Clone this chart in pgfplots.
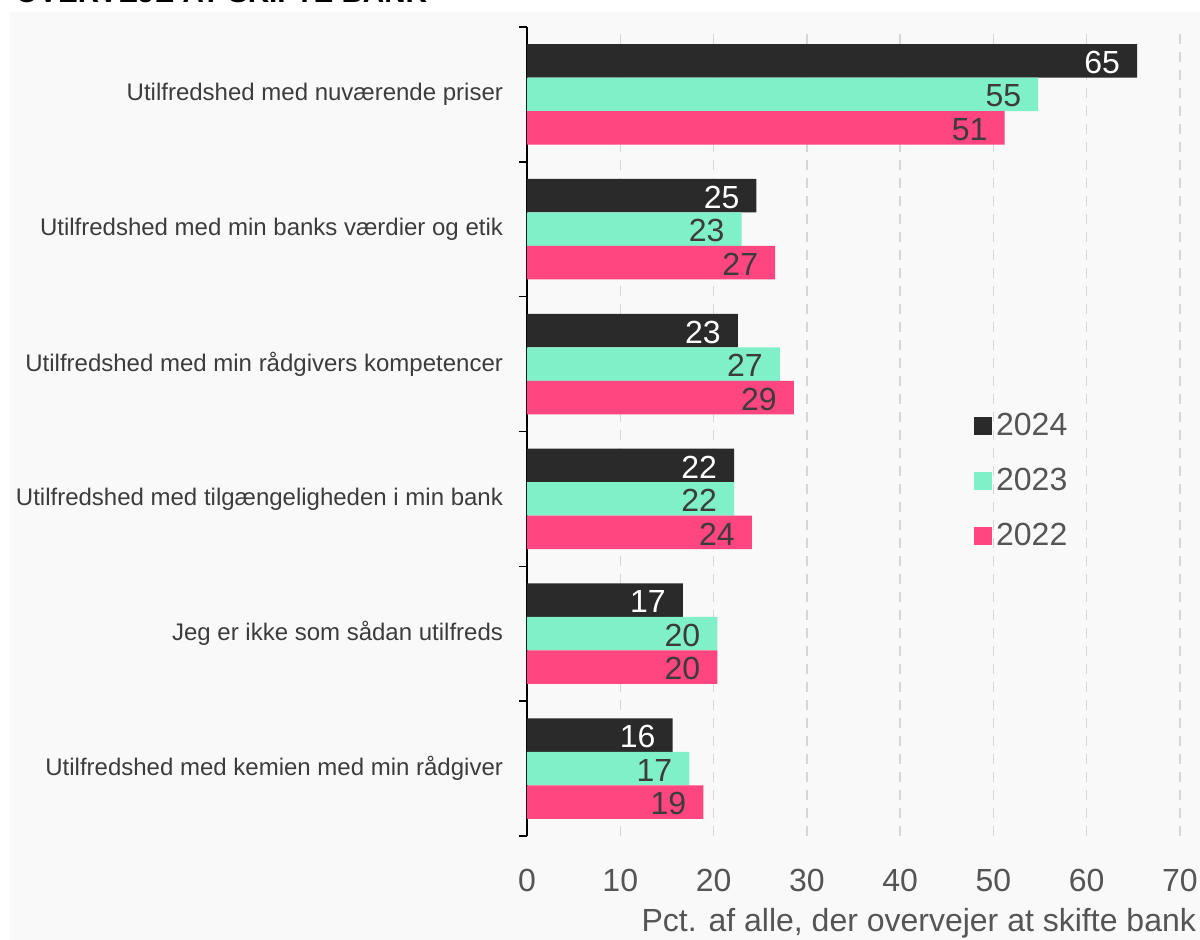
\documentclass[border=0pt]{standalone}
\usepackage{fontspec}
\setmainfont{Liberation Sans}
\usepackage{pgfplots}
\pgfplotsset{compat=1.18}
\definecolor{c24}{HTML}{2A2A2A}
\definecolor{c23}{HTML}{80F0C8}
\definecolor{c22}{HTML}{FF4680}
\definecolor{panel}{HTML}{F9F9F9}
\definecolor{txt}{HTML}{3C3C3C}
\definecolor{tickc}{HTML}{555555}
\definecolor{gridc}{HTML}{D6D6D6}
\begin{document}
\begin{tikzpicture}
\path[use as bounding box] (-263.5pt,-52pt) rectangle (336.5pt,418pt);
\fill[white] (-263.5pt,-52pt) rectangle (336.5pt,418pt);
\fill[panel] (-258.5pt,-52pt) rectangle (336.5pt,412pt);
\begin{scope}
\clip (-263.5pt,-52pt) rectangle (336.5pt,418pt);
\node[anchor=base west, inner sep=0pt, font=\bfseries\fontsize{14.8}{17}\selectfont, text=black] at (-256pt,416.5pt) {OVERVEJE AT SKIFTE BANK};
\end{scope}
\begin{axis}[
  at={(0,0)}, anchor=south west, scale only axis,
  width=326.5pt, height=404.5pt,
  xbar, bar width=16.75pt,
  xmin=0, xmax=70, ymin=-0.5, ymax=5.5,
  xtick={0,10,...,70},
  ytick={0,...,5},
  yticklabels={Utilfredshed med kemien med min rådgiver, Jeg er ikke som sådan utilfreds, Utilfredshed med tilgængeligheden i min bank, Utilfredshed med min rådgivers kompetencer, Utilfredshed med min banks værdier og etik, Utilfredshed med nuværende priser},
  minor ytick={-0.5,0.5,...,5.5},
  axis y line*=left, axis x line*=bottom,
  x axis line style={draw=none},
  y axis line style={black, line width=0.8pt},
  tick align=outside,
  major tick length=0pt, minor tick length=4pt,
  every minor tick/.append style={black, line width=0.8pt},
  xmajorgrids,
  major grid style={gridc, line width=0.75pt, dash pattern=on 5pt off 4pt},
  /pgf/number format/assume math mode=true,
  xticklabel style={font=\fontsize{16}{19}\selectfont, text=tickc, yshift=-13pt},
  yticklabel style={font=\fontsize{12}{14}\selectfont, text=txt, xshift=-8.5pt},
  xlabel={Pct. af alle, der overvejer at skifte bank},
  xlabel style={at={(axis description cs:1,0)}, anchor=north east, yshift=-32.5pt, xshift=11.5pt, font=\fontsize{16}{19}\selectfont, text=tickc},
  nodes near coords,
  point meta=explicit symbolic,
  every node near coord/.append style={anchor=east, xshift=-5pt, yshift=-0.8pt, font=\fontsize{16}{19}\selectfont},
  legend style={at={(0.675,0.533)}, anchor=north west, draw=none, fill=none, font=\fontsize{16}{19}\selectfont, text=tickc, row sep=10.8pt},
  legend cell align=left,
  legend image code/.code={\fill[#1] (0pt,-4.5pt) rectangle (9pt,4.5pt);},
]
\addplot[fill=c24, draw=none, bar shift=16.75pt, every node near coord/.append style={text=white}] coordinates {
(65.4,5) [65] (24.6,4) [25] (22.6,3) [23] (22.2,2) [22] (16.7,1) [17] (15.6,0) [16]};
\addplot[fill=c23, draw=none, bar shift=0pt, every node near coord/.append style={text=txt}] coordinates {
(54.8,5) [55] (23.0,4) [23] (27.1,3) [27] (22.2,2) [22] (20.4,1) [20] (17.4,0) [17]};
\addplot[fill=c22, draw=none, bar shift=-16.75pt, every node near coord/.append style={text=txt}] coordinates {
(51.2,5) [51] (26.6,4) [27] (28.6,3) [29] (24.1,2) [24] (20.4,1) [20] (18.9,0) [19]};
\legend{2024,2023,2022}
\end{axis}
\end{tikzpicture}
\end{document}
